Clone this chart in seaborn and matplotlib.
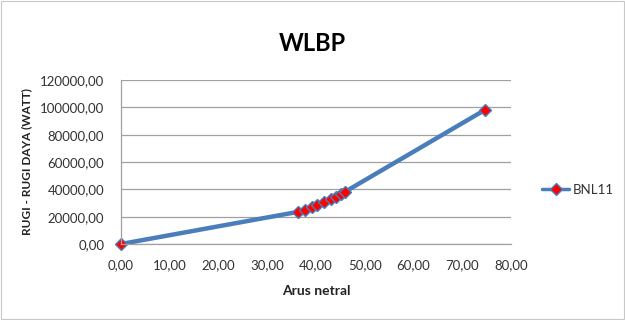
import matplotlib
matplotlib.use("Agg")
import matplotlib.pyplot as plt
import seaborn as sns
import pandas as pd
from matplotlib.ticker import FuncFormatter

arus_netral = [0.0, 36.3, 37.8, 39.2, 40.2, 41.6, 43.0, 44.0, 45.2, 46.0, 74.6]
rugi_daya = [0.0, 23500, 25000, 27000, 28800, 30800, 32800, 34300, 36300, 38300, 98000]
series_name = "BNL11"
x_ticks = [0, 10, 20, 30, 40, 50, 60, 70, 80]
y_ticks = [0, 20000, 40000, 60000, 80000, 100000, 120000]

df = pd.DataFrame({"x": arus_netral, "y": rugi_daya, "s": series_name})

sns.set_theme(style="white")
plt.rcParams["font.family"] = ["Lato", "DejaVu Sans"]

fig = plt.figure(figsize=(6.25, 3.2), dpi=100)
ax = fig.add_axes([0.1936, 0.2375, 0.624, 0.5125])

sns.lineplot(data=df, x="x", y="y", hue="s", palette=["#4a7ebb"], sort=False,
             linewidth=3.2, marker="D", markersize=6, markerfacecolor="red",
             markeredgecolor="#4a7ebb", markeredgewidth=1.0, ax=ax, legend=True,
             clip_on=False)

ax.set_xlim(0, 80)
ax.set_ylim(0, 120000)
ax.set_xticks(x_ticks)
ax.set_yticks(y_ticks)
fmt = FuncFormatter(lambda v, p: f"{v:.2f}".replace(".", ","))
ax.xaxis.set_major_formatter(fmt)
ax.yaxis.set_major_formatter(fmt)
ax.tick_params(axis="both", labelsize=9.5, colors="#333333", length=0)
ax.tick_params(axis="x", pad=11)
ax.tick_params(axis="y", pad=12)
ax.yaxis.grid(True, color="#a0a0a0", linewidth=0.9)
ax.set_axisbelow(True)
for s in ["top", "right"]:
    ax.spines[s].set_visible(False)
for s in ["left", "bottom"]:
    ax.spines[s].set_color("#a0a0a0")
    ax.spines[s].set_linewidth(0.9)

ax.set_xlabel("Arus netral", fontsize=10, fontweight="bold", color="#222222", labelpad=10)
ax.set_ylabel("RUGI - RUGI DAYA (WATT)", fontsize=8.5, fontweight="bold", color="#222222", labelpad=6)
fig.text(0.5, 0.865, "WLBP", ha="center", va="center", fontsize=17, fontweight="bold", color="black")

leg = ax.legend(loc="center left", bbox_to_anchor=(1.05, 0.33), frameon=False,
                fontsize=9.5, handlelength=2.0, handletextpad=0.3)
for t in leg.get_texts():
    t.set_color("#333333")
    t.set_text(series_name)
for h in leg.legend_handles:
    h.set_linewidth(2.5)

border = plt.Rectangle((0.002, 0.003), 0.996, 0.994, transform=fig.transFigure,
                       fill=False, edgecolor="#c8c8c8", linewidth=0.8)
fig.patches.append(border)

fig.savefig("out.png", dpi=100)
